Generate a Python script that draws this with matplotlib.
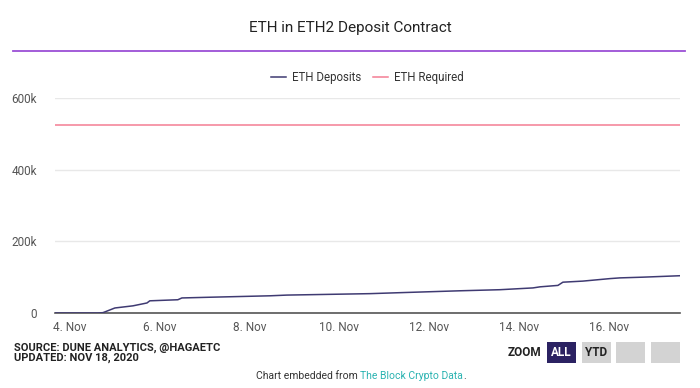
import matplotlib
matplotlib.use("Agg")
import matplotlib.pyplot as plt
import matplotlib.dates as mdates
from matplotlib.patches import Rectangle
import pandas as pd

# ---- data ----
deposit_times = ["2020-11-03 16:00", "2020-11-04 15:00", "2020-11-04 17:40", "2020-11-05 00:00",
                 "2020-11-05 09:40", "2020-11-05 17:10", "2020-11-05 18:40", "2020-11-06 09:40",
                 "2020-11-06 11:50", "2020-11-07 02:50", "2020-11-08 10:55", "2020-11-08 20:00",
                 "2020-11-10 16:20", "2020-11-11 10:00", "2020-11-12 16:30", "2020-11-13 13:50",
                 "2020-11-14 07:30", "2020-11-14 11:15", "2020-11-14 20:50", "2020-11-14 23:30",
                 "2020-11-15 10:10", "2020-11-16 00:40", "2020-11-16 06:00", "2020-11-16 18:15",
                 "2020-11-17 14:05"]
deposit_values = [0, 0, 1000, 14000, 20000, 28000, 34000, 37000, 42000, 44000, 48000, 50000,
                  54000, 57000, 62000, 65000, 70000, 73000, 77000, 86000, 89000, 96000, 98000,
                  100000, 104000]
required_times = ["2020-11-03 16:00", "2020-11-17 14:05"]
required_values = [524288, 524288]
x_ticks = ["2020-11-04", "2020-11-06", "2020-11-08", "2020-11-10", "2020-11-12", "2020-11-14", "2020-11-16"]
x_tick_labels = ["4. Nov", "6. Nov", "8. Nov", "10. Nov", "12. Nov", "14. Nov", "16. Nov"]
y_ticks = [0, 200000, 400000, 600000]
y_tick_labels = ["0", "200k", "400k", "600k"]

W, H = 700, 388
fig = plt.figure(figsize=(W / 100, H / 100), dpi=100)
fig.patch.set_facecolor("white")

FONT = ["Roboto", "DejaVu Sans"]
NARROW = ["Liberation Sans Narrow", "Roboto", "DejaVu Sans"]

def fx(px):
    return px / W

def fy(py):
    return 1 - py / H

# plot area
ax = fig.add_axes([fx(55), fy(313), fx(680) - fx(55), fy(98) - fy(313)])
dt = pd.to_datetime(deposit_times)
rt = pd.to_datetime(required_times)
ax.plot(dt, deposit_values, color="#3f3a72", lw=1.1, zorder=3)
ax.plot(rt, required_values, color="#f47d93", lw=1.1, zorder=3)
ax.set_xlim(dt[0], dt[-1])
ax.set_ylim(0, 600000)

ax.set_yticks(y_ticks)
ax.set_yticklabels(y_tick_labels, fontsize=8.5, color="#555555", family=FONT)
ax.set_xticks(pd.to_datetime(x_ticks))
ax.set_xticklabels(x_tick_labels, fontsize=8.5, color="#555555", family=FONT)
ax.tick_params(axis="both", length=0)
ax.tick_params(axis="y", pad=13)
ax.tick_params(axis="x", pad=6)
ax.grid(axis="y", color="#e8e8e8", lw=1)
ax.set_axisbelow(True)
for s in ["top", "right", "left"]:
    ax.spines[s].set_visible(False)
ax.spines["bottom"].set_color("#555555")
ax.spines["bottom"].set_linewidth(1.2)

# title & purple rule
fig.text(0.5, fy(28), "ETH in ETH2 Deposit Contract", ha="center", va="center",
         fontsize=11, color="#222222", family=FONT)
fig.add_artist(plt.Line2D([fx(13), fx(685)], [fy(51), fy(51)], color="#9b4fd6", lw=1.3))

# legend
leg = ax.legend(["ETH Deposits", "ETH Required"], loc="center",
                bbox_to_anchor=(0.5, (fy(77.5) - fy(313)) / (fy(98) - fy(313))),
                ncol=2, frameon=False, prop={"family": FONT, "size": 8.3}, handlelength=1.3,
                handletextpad=0.5, columnspacing=1.0, labelcolor="#333333")

# source
fig.text(fx(14), fy(347.5), "SOURCE: DUNE ANALYTICS, @HAGAETC", ha="left", va="center",
         fontsize=8, fontweight="bold", color="#222222", family=NARROW)
fig.text(fx(14), fy(357.5), "UPDATED: NOV 18, 2020", ha="left", va="center",
         fontsize=8, fontweight="bold", color="#222222", family=NARROW)

# zoom buttons
fig.text(fx(524), fy(353), "ZOOM", ha="center", va="center", fontsize=8.5, fontweight="bold",
         color="#222222", family=NARROW)
btns = [(547, "ALL", "#2b2262", "white"), (582, "YTD", "#d3d3d3", "#222222"),
        (616, "", "#d3d3d3", "#222222"), (651, "", "#d3d3d3", "#222222")]
for x0, lab, fc, tc in btns:
    fig.add_artist(Rectangle((fx(x0), fy(363)), fx(29), fy(342) - fy(363), transform=fig.transFigure,
                             facecolor=fc, edgecolor="none"))
    if lab:
        fig.text(fx(x0 + 14.5), fy(352.5), lab, ha="center", va="center", fontsize=8.5,
                 fontweight="bold", color=tc, family=NARROW)

# embedded note
t1 = fig.text(fx(256), fy(376), "Chart embedded from ", ha="left", va="center", fontsize=7.5,
              color="#333333", family=NARROW)
fig.canvas.draw()
bb = t1.get_window_extent()
t2 = fig.text(bb.x1 / W, fy(376), "The Block Crypto Data", ha="left", va="center", fontsize=7.5,
              color="#2bb3b1", family=NARROW)
fig.canvas.draw()
bb2 = t2.get_window_extent()
fig.text(bb2.x1 / W, fy(376), ".", ha="left", va="center", fontsize=7.5, color="#333333", family=NARROW)

fig.savefig("out.png", dpi=100, facecolor="white")
